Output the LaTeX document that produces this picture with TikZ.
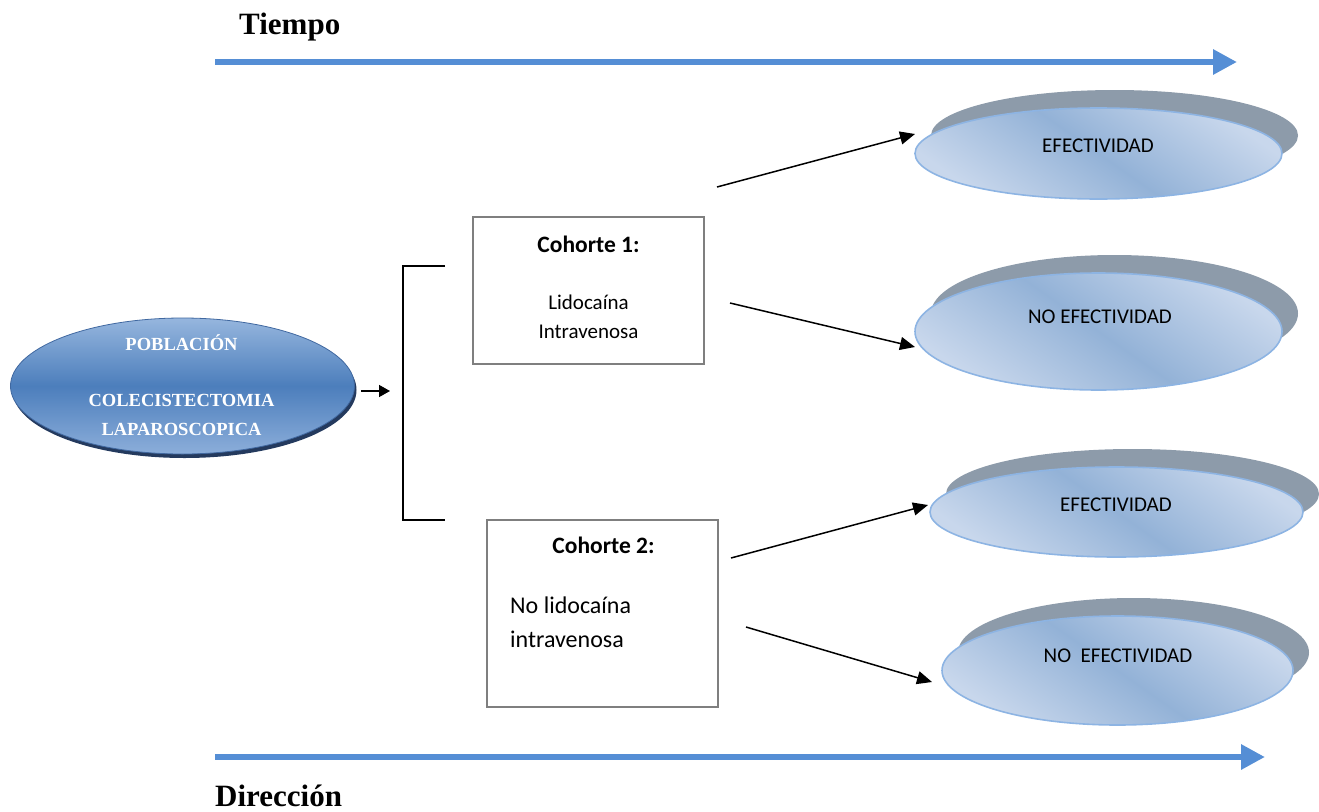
\documentclass[tikz,border=0pt]{standalone}
\usepackage{fontspec}
\setmainfont{Liberation Serif}
\newfontfamily\calfont{Carlito}
\usetikzlibrary{arrows.meta,shapes.geometric,shadows}
\definecolor{arrowblue}{RGB}{85,142,213}
\definecolor{boxgray}{RGB}{127,127,127}
\definecolor{shgray}{RGB}{141,155,170}
\definecolor{ebase}{RGB}{147,178,215}
\definecolor{elight}{RGB}{200,215,236}
\definecolor{eedge}{RGB}{141,180,227}
\definecolor{poplight}{RGB}{150,182,222}
\definecolor{poplight2}{RGB}{140,174,218}
\definecolor{popdark}{RGB}{76,126,188}
\definecolor{popedge}{RGB}{64,104,160}
\definecolor{popshadow}{RGB}{36,58,94}
\begin{document}
\begin{tikzpicture}[x=1pt,y=-1pt,
  timearrow/.style={draw=arrowblue,line width=6.5pt,-{Triangle[length=24pt,width=24pt]}},
  titletext/.style={font=\bfseries\fontsize{31}{36}\selectfont,inner sep=0pt,anchor=base west},
  pop/.style={ellipse,minimum width=344pt,minimum height=136pt,inner sep=0pt,
    draw=popedge,line width=0.8pt,top color=poplight,bottom color=poplight2,middle color=popdark,
    drop shadow={shadow xshift=2pt,shadow yshift=-4pt,fill=popshadow,opacity=1}},
  poptext/.style={font=\bfseries\fontsize{18.5}{22}\selectfont,text=white,inner sep=0pt,anchor=base},
  smallarrow/.style={draw=black,line width=1.4pt,-{Triangle[length=11pt,width=12pt]}},
  bracketline/.style={draw=black,line width=1.5pt},
  cbox/.style={rectangle,draw=boxgray,line width=2pt,inner sep=0pt,fill=white},
  ctitle/.style={font=\calfont\bfseries\fontsize{23.5}{28}\selectfont,inner sep=0pt,anchor=base},
  ctext/.style={font=\calfont\fontsize{21}{25}\selectfont,inner sep=0pt,anchor=base},
  ctextb/.style={font=\calfont\fontsize{24}{28}\selectfont,inner sep=0pt,anchor=base west},
  outcome/.style={ellipse,inner sep=0pt,draw=eedge,line width=1.6pt,
    top color=elight,bottom color=elight,middle color=ebase,shading angle=-35,
    drop shadow={shadow xshift=16pt,shadow yshift=18pt,fill=shgray,opacity=1}},
  otext/.style={font=\calfont\fontsize{21}{25}\selectfont,inner sep=0pt,anchor=base},
  link/.style={draw=black,line width=1.5pt,-{Triangle[length=15pt,width=13pt]}}
]
\useasboundingbox (0,0) rectangle (1319,811);

% time / direction arrows
\node[titletext] (tiempo) at (239,34) {Tiempo};
\coordinate (ta) at (215,62);
\coordinate (tb) at (1237,62);
\draw[timearrow] (ta) -- (tb);
\coordinate (da) at (215,757);
\coordinate (db) at (1265,757);
\draw[timearrow] (da) -- (db);
\node[titletext] (direccion) at (215,806) {Dirección};

% population
\node[pop] (pob) at (182.5,386) {};
\node[poptext] (pob1) at (181.5,350) {POBLACIÓN};
\node[poptext] (pob2) at (181.5,406) {COLECISTECTOMIA};
\node[poptext] (pob3) at (181.5,435) {LAPAROSCOPICA};

% small arrow and bracket
\coordinate (sa) at (361,391);
\coordinate (sb) at (390,391);
\draw[smallarrow] (sa) -- (sb);
\coordinate (bt) at (445,266);
\coordinate (btl) at (403,266);
\coordinate (bbl) at (403,520);
\coordinate (bb) at (445,520);
\draw[bracketline] (bt) -- (btl) -- (bbl) -- (bb);

% cohort boxes
\node[cbox,minimum width=231pt,minimum height=147pt] (c1) at (588.5,290.5) {};
\node[ctitle] (c1t) at (588.5,252) {Cohorte 1:};
\node[ctext] (c1a) at (588.5,309) {Lidocaína};
\node[ctext] (c1b) at (588.5,338) {Intravenosa};

\node[cbox,minimum width=231pt,minimum height=187pt] (c2) at (602.5,613.5) {};
\node[ctitle] (c2t) at (603.5,553) {Cohorte 2:};
\node[ctextb] (c2a) at (510,613) {No lidocaína};
\node[ctextb] (c2b) at (510,647) {intravenosa};

% outcome ellipses
\node[outcome,minimum width=367pt,minimum height=91pt] (e1) at (1098.5,153.5) {};
\node[otext] (e1t) at (1098,152) {EFECTIVIDAD};
\node[outcome,minimum width=367pt,minimum height=117pt] (e2) at (1098.5,331.5) {};
\node[otext] (e2t) at (1100,323) {NO EFECTIVIDAD};
\node[outcome,minimum width=373pt,minimum height=90pt] (e3) at (1116.5,512) {};
\node[otext] (e3t) at (1116,511) {EFECTIVIDAD};
\node[outcome,minimum width=351pt,minimum height=109pt] (e4) at (1117.5,670.5) {};
\node[otext] (e4t) at (1118,662) {NO\ \ EFECTIVIDAD};

% connectors
\coordinate (a1s) at (717,187);
\coordinate (a1e) at (915,134);
\draw[link] (a1s) -- (a1e);
\coordinate (a2s) at (730,303);
\coordinate (a2e) at (915,347);
\draw[link] (a2s) -- (a2e);
\coordinate (a3s) at (731,558);
\coordinate (a3e) at (928,505);
\draw[link] (a3s) -- (a3e);
\coordinate (a4s) at (746,627);
\coordinate (a4e) at (932,682);
\draw[link] (a4s) -- (a4e);
\end{tikzpicture}
\end{document}
